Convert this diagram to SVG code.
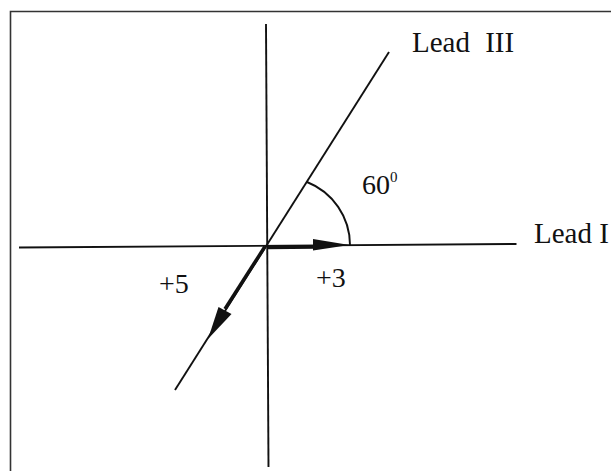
<svg xmlns="http://www.w3.org/2000/svg" width="611" height="471" viewBox="0 0 611 471">
  <style>
    .ln { stroke: #111; stroke-width: 1.9; fill: none; stroke-linecap: butt; }
    .vec { stroke: #111; stroke-width: 3.5; fill: none; }
    .head { fill: #111; stroke: none; }
    .lbl { font-family: "Liberation Serif", "Times New Roman", serif; fill: #111; }
  </style>
  <rect x="0" y="0" width="611" height="471" fill="#ffffff"/>
  <path id="frame" d="M10.5,471 V11.5 H611" stroke="#333" stroke-width="1.6" fill="none"/>
  <g id="axes">
    <line class="ln" x1="19" y1="247.5" x2="516.5" y2="244"/>
    <line class="ln" x1="266" y1="24" x2="268.5" y2="467"/>
    <line class="ln" x1="389" y1="52" x2="175" y2="390"/>
    <path class="ln" d="M307,182 A68,68 0 0 1 350,245"/>
  </g>
  <g id="vectors">
    <line class="vec" x1="267" y1="247.5" x2="316" y2="247"/>
    <polygon class="head" points="313,239 349.5,245 313,250.5"/>
    <line class="vec" x1="265" y1="246.5" x2="225" y2="309"/>
    <polygon class="head" points="231.5,314 208,339 218.5,307"/>
  </g>
  <g id="labels">
    <text class="lbl" x="412" y="52" font-size="29" word-spacing="8">Lead III</text>
    <text class="lbl" x="534" y="243" font-size="29">Lead I</text>
    <text class="lbl" x="362" y="194" font-size="28">60<tspan font-size="15" dy="-12">0</tspan></text>
    <text class="lbl" x="316" y="287" font-size="28">+3</text>
    <text class="lbl" x="159" y="293" font-size="28">+5</text>
  </g>
</svg>
